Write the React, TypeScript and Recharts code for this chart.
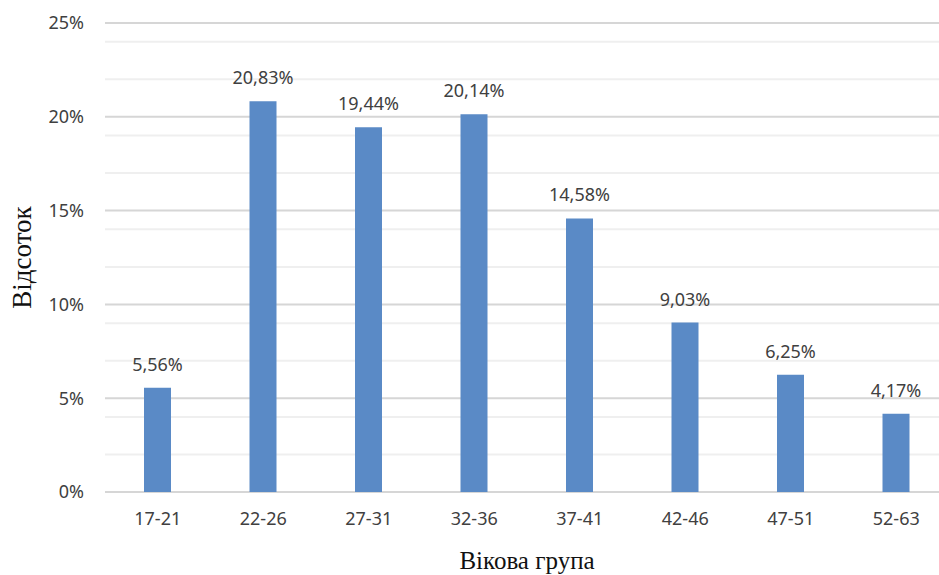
import { BarChart, Bar, XAxis, YAxis, CartesianGrid, LabelList } from 'recharts'

const ageGroups = ['17-21', '22-26', '27-31', '32-36', '37-41', '42-46', '47-51', '52-63']
const shares = [5.56, 20.83, 19.44, 20.14, 14.58, 9.03, 6.25, 4.17]
const majorTicks = [0, 5, 10, 15, 20, 25]
const minorTicks = [1, 2, 3, 4, 6, 7, 8, 9, 11, 12, 13, 14, 16, 17, 18, 19, 21, 22, 23, 24]

const data = ageGroups.map((group, i) => ({ group, share: shares[i] }))

const tickFont = { fill: '#404040', fontSize: 18, fontFamily: 'Noto Sans' }

export default function App() {
  return (
    <div
      style={{
        position: 'fixed',
        left: 0,
        top: 0,
        width: 939,
        height: 575,
        overflow: 'hidden',
        background: '#ffffff',
      }}
    >
      <BarChart width={950} height={575} data={data} margin={{ top: 23, right: 1, left: 0, bottom: 0 }}>
        <CartesianGrid
          vertical={false}
          horizontalValues={minorTicks}
          stroke="#efefef"
          strokeWidth={2}
        />
        <CartesianGrid vertical={false} horizontalValues={majorTicks} stroke="#d6d6d6" strokeWidth={2} />

        <XAxis
          dataKey="group"
          axisLine={false}
          tickLine={false}
          tickSize={0}
          tickMargin={20}
          height={83}
          interval={0}
          tick={tickFont}
          label={{
            value: 'Вікова група',
            position: 'insideBottom',
            offset: 6,
            fill: '#111',
            fontSize: 25,
            fontFamily: 'Liberation Serif',
          }}
        />
        <YAxis
          domain={[0, 25]}
          ticks={majorTicks}
          tickFormatter={(v) => `${v}%`}
          axisLine={false}
          tickLine={false}
          tickSize={0}
          tickMargin={21}
          width={105}
          tick={tickFont}
          label={{
            value: 'Відсоток',
            angle: -90,
            position: 'center',
            dx: -31,
            dy: 0,
            fill: '#111',
            fontSize: 27,
            fontFamily: 'Liberation Serif',
          }}
        />

        <Bar dataKey="share" fill="#5a8ac6" barSize={27} isAnimationActive={false}>
          <LabelList
            dataKey="share"
            position="top"
            offset={17}
            formatter={(v: any) => `${Number(v).toFixed(2).replace('.', ',')}%`}
            style={{ fill: '#404040', fontSize: 18, fontFamily: 'Noto Sans' }}
          />
        </Bar>
      </BarChart>
    </div>
  )
}
